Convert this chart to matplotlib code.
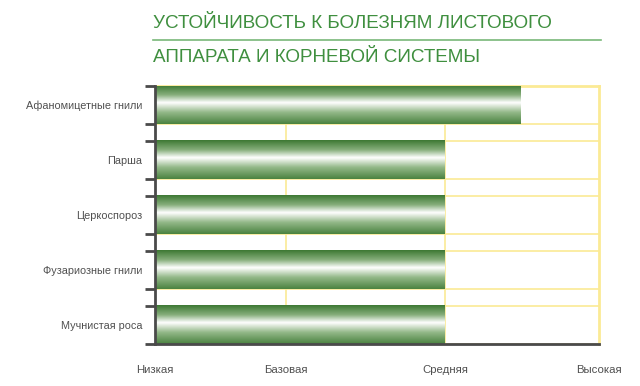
import matplotlib.pyplot as plt
from matplotlib import colors
import numpy as np

# data
diseases = ['Афаномицетные гнили', 'Парша', 'Церкоспороз',
            'Фузариозные гнили', 'Мучнистая роса']
resistance = [82.4, 65.3, 65.3, 65.3, 65.3]
level_labels = ['Низкая', 'Базовая', 'Средняя', 'Высокая']
level_pos = [0, 29.5, 65.3, 100]

title1 = 'УСТОЙЧИВОСТЬ К БОЛЕЗНЯМ ЛИСТОВОГО'
title2 = 'АППАРАТА И КОРНЕВОЙ СИСТЕМЫ'

yellow = '#fbea95'
axis_gray = '#4a4a4a'
text_gray = '#505050'
font = ['Liberation Sans', 'DejaVu Sans']

bar_cmap = colors.LinearSegmentedColormap.from_list(
    'tube', [(0, '#3d7833'), (0.25, '#86ae7b'), (0.45, '#ffffff'),
             (0.70, '#93b888'), (1, '#4a8240')])

fig = plt.figure(figsize=[6.4, 3.86], dpi=100)
ax = fig.add_axes([155/640, 42/386, 444/640, 258/386])

h = 0.70
n = len(diseases)
ypos = np.arange(n)
xmax = level_pos[-1]

# yellow grid
for y in ypos:
    ax.hlines([y - h/2, y + h/2], 0, xmax, color=yellow, lw=1.2, zorder=1)
ax.vlines(level_pos[1:-1], -h/2, n - 1 + h/2, color=yellow, lw=1.2, zorder=1)

# gradient bars
grad = np.linspace(0, 1, 256).reshape(-1, 1)
for y, v in zip(ypos, resistance):
    ax.imshow(grad, cmap=bar_cmap, aspect='auto', interpolation='bilinear',
              extent=[0, v, y + h/2, y - h/2], zorder=2)
ax.set_xlim(0, xmax)
ax.set_ylim(n - 1 + h/2, -h/2)

for s in ['top', 'right']:
    ax.spines[s].set_color(yellow)
    ax.spines[s].set_linewidth(2)
    ax.spines[s].set_zorder(1)
for s in ['left', 'bottom']:
    ax.spines[s].set_color(axis_gray)
    ax.spines[s].set_linewidth(2)
    ax.spines[s].set_zorder(3)

ax.set_yticks(ypos)
ax.set_yticklabels(diseases, family=font, fontsize=7.8, color=text_gray)
ax.tick_params(axis='y', which='major', length=0, pad=9)
ax.set_yticks(np.concatenate([ypos - h/2, ypos + h/2]), minor=True)
ax.tick_params(axis='y', which='minor', length=7, width=2, color=axis_gray)

ax.set_xticks(level_pos)
ax.set_xticklabels(level_labels, family=font, fontsize=8.2, color=text_gray)
ax.tick_params(axis='x', length=0, pad=15)
labs = ax.get_xticklabels()
labs[0].set_x(-1.0)
labs[-1].set_x(101.3)

fig.text(153/640, 1 - 23/386, title1, family=font, fontsize=13.6,
         color='#3f8f3f', va='center', ha='left')
fig.text(153/640, 1 - 57/386, title2, family=font, fontsize=13.6,
         color='#3f8f3f', va='center', ha='left')
fig.add_artist(plt.Line2D([153/640, 601/640], [1 - 39.5/386, 1 - 39.5/386],
                          color='#79b879', lw=1.2))

plt.savefig('out.png', dpi=100)
